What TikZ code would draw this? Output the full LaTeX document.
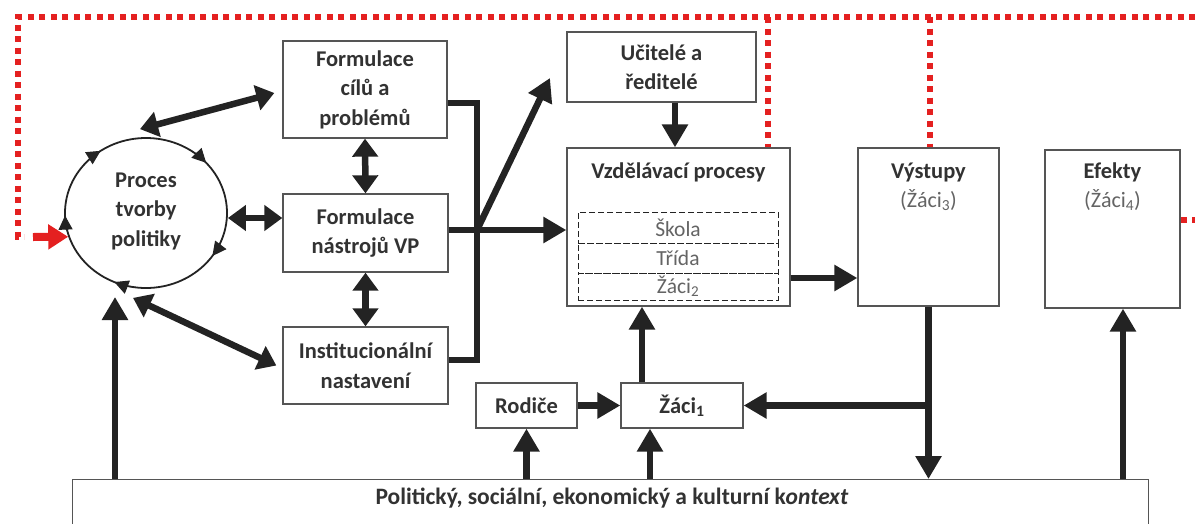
\documentclass[tikz,border=0pt]{standalone}
\usepackage{fontspec}
\setmainfont{Carlito}
\usetikzlibrary{arrows.meta,shapes.geometric,calc}
\definecolor{ink}{RGB}{35,35,35}
\definecolor{txt}{RGB}{50,50,50}
\definecolor{soft}{RGB}{100,100,100}
\definecolor{edge}{RGB}{85,85,85}
\definecolor{redl}{RGB}{228,32,32}
\begin{document}
\begin{tikzpicture}[x=1pt,y=-1pt,
 box/.style={draw=edge,line width=1.3pt,fill=white,inner sep=0pt,align=center,text=txt,font=\bfseries\fontsize{22.5}{29.5}\selectfont},
 lbl/.style={inner sep=0pt,align=center,text=txt,font=\bfseries\fontsize{22.5}{29.5}\selectfont},
 sub/.style={inner sep=0pt,text=soft,font=\fontsize{22}{26}\selectfont},
 lvl/.style={draw=ink,dash pattern=on 6pt off 3pt,line width=1pt,minimum width=200pt,inner sep=0pt,text=soft,font=\fontsize{21.5}{24}\selectfont},
 arr/.style={draw=ink,line width=6.5pt,-{Triangle[length=23pt,width=25pt]}},
 dbl/.style={draw=ink,line width=6.5pt,{Triangle[length=18pt,width=25pt]}-{Triangle[length=18pt,width=25pt]}},
 redot/.style={draw=redl,line width=6pt,dash pattern=on 6pt off 5.5pt},
 redarr/.style={draw=redl,line width=8pt,-{Triangle[length=20pt,width=24pt]}},
 cyc/.style={draw=ink,line width=1pt,-{Triangle[length=14pt,width=14pt]}},
]
\useasboundingbox (0,0) rectangle (1195,523);
\clip (0,0) rectangle (1195,523);

% boxes
\node[box,minimum width=164pt,minimum height=97pt] (cile) at (365,89.5) {Formulace\\cílů a\\problémů};
\node[box,minimum width=165pt,minimum height=78pt] (nast) at (365.5,233) {Formulace\\nástrojů VP};
\node[box,minimum width=165pt,minimum height=77pt] (inst) at (365.5,365.5) {Institucionální\\nastavení};
\node[box,minimum width=189pt,minimum height=70pt] (ucit) at (661.5,67) {Učitelé a\\ředitelé};
\node[box,minimum width=223pt,minimum height=158pt] (vzd) at (678.5,227) {};
\node[lbl] (vzdT) at (678.5,172) {Vzdělávací procesy};
\node[lvl,minimum height=31pt] (skola) at (678,227.5) {Škola};
\node[lvl,minimum height=30pt] (trida) at (678,258) {Třída};
\node[lvl,minimum height=27pt] (zaci2) at (678,286.5) {Žáci\textsubscript{2}};
\node[box,minimum width=141pt,minimum height=158pt] (vyst) at (928.5,227) {};
\node[lbl] (vystT) at (928.5,172) {Výstupy};
\node[sub] (vystS) at (928.5,200) {(Žáci\textsubscript{3})};
\node[box,minimum width=135pt,minimum height=158pt] (efek) at (1112.5,229) {};
\node[lbl] (efekT) at (1112.5,172) {Efekty};
\node[sub] (efekS) at (1112.5,200) {(Žáci\textsubscript{4})};
\node[box,minimum width=101pt,minimum height=45pt] (rod) at (526.5,405.5) {Rodiče};
\node[box,minimum width=122pt,minimum height=45pt] (zaci1) at (682,405.5) {Žáci\textsubscript{1}};
\node[draw=edge,line width=1.3pt,minimum width=1076pt,minimum height=90pt,anchor=north west,inner sep=0pt] (ctx) at (72,479) {};
\node[lbl,font=\bfseries\fontsize{23.5}{26}\selectfont] (ctxT) at (612,498) {Politický, sociální, ekonomický a kulturní k\textit{ontext}};

% policy cycle
\node[draw=ink,line width=1.8pt,ellipse,minimum width=162pt,minimum height=150pt,inner sep=0pt] (proc) at (146,213) {};
\node[lbl] (procT) at (146,211) {Proces\\tvorby\\politiky};
\foreach \a in {35,113,178,236,318}
  \draw[cyc] (proc.center) ++(\a-16:81 and 75) arc[start angle=\a-16,end angle=\a,x radius=81,y radius=75];

% connectors
\draw[dbl] ([xshift=-6pt,yshift=8pt]proc.north) -- ([xshift=-8pt,yshift=-3.5pt]cile.west);
\draw[dbl] ([yshift=-5pt]proc.east) -- ([yshift=-5pt]proc.east -| nast.west);
\draw[dbl] ([xshift=-13pt,yshift=-9pt]proc.south) -- ([xshift=-6pt]inst.west);
\draw[dbl] (cile.south) -- (nast.north);
\draw[dbl] (nast.south) -- (inst.north);
\coordinate (pin) at (115,297);
\draw[arr] (ctx.north -| pin) -- (pin);

\coordinate (J) at (477,230);
\coordinate (dg) at (550,78);
\draw[draw=ink,line width=6.5pt,line join=miter] ([yshift=-13.5pt]cile.east) -| (J) |- ([yshift=5.5pt]inst.east);
\draw[arr] ([yshift=3pt]nast.east) -- (vzd.west |- J);
\draw[arr] (J) -- (dg);

\coordinate (c1) at (675,0);
\draw[arr] (ucit.south -| c1) -- (vzd.north -| c1);
\coordinate (c2) at (0,278);
\draw[arr] (vzd.east |- c2) -- (vyst.west |- c2);
\coordinate (c3) at (642,0);
\draw[arr] (zaci1.north -| c3) -- (vzd.south -| c3);
\draw[arr] (rod.east) -- (zaci1.west);
\draw[arr] (ctx.north -| rod.south) -- (rod.south);
\coordinate (c4) at (650,0);
\draw[arr] (ctx.north -| c4) -- (zaci1.south -| c4);
\draw[arr] (vyst.south) -- (vyst.south |- ctx.north);
\draw[arr] (vyst.south |- zaci1.east) -- (zaci1.east);
\coordinate (c6) at (1123,0);
\draw[arr] (ctx.north -| c6) -- (efek.south -| c6);

% red feedback
\coordinate (rtop) at (1195,17);
\coordinate (rc) at (18,17);
\coordinate (rb) at (18,237);
\coordinate (rs) at (33,237);
\draw[redot] (rtop) -- (rc) -- (rb) -- ++(6,0);
\draw[redarr] (rs) -- (proc.197);
\coordinate (r1) at (768,17);
\draw[redot] (r1) -- (r1 |- vzd.north);
\coordinate (r2) at (930,17);
\draw[redot] (r2) -- (r2 |- vyst.north);
\coordinate (r3) at (1195,220);
\draw[redot] (efek.east |- r3) -- (r3);
\end{tikzpicture}
\end{document}
